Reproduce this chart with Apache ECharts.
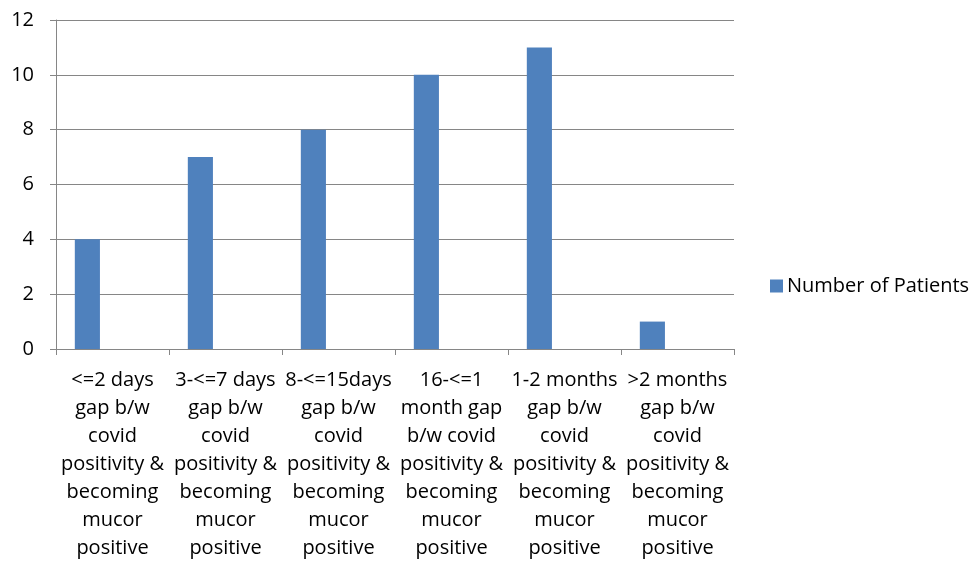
<!DOCTYPE html>
<html>
<head>
<meta charset="utf-8">
<script src="https://cdn.jsdelivr.net/npm/echarts@6/dist/echarts.min.js"></script>
<style>
html,body{margin:0;padding:0;background:#fff;}
#c{width:974px;height:564px;}
</style>
</head>
<body>
<div id="c"></div>
<script>
const categories = [
  "<=2 days\ngap b/w\ncovid\npositivity &\nbecoming\nmucor\npositive",
  "3-<=7 days\ngap b/w\ncovid\npositivity &\nbecoming\nmucor\npositive",
  "8-<=15days\ngap b/w\ncovid\npositivity &\nbecoming\nmucor\npositive",
  "16-<=1\nmonth gap\nb/w covid\npositivity &\nbecoming\nmucor\npositive",
  "1-2 months\ngap b/w\ncovid\npositivity &\nbecoming\nmucor\npositive",
  ">2 months\ngap b/w\ncovid\npositivity &\nbecoming\nmucor\npositive"
];
const seriesName = "Number of Patients";
const patients = [4, 7, 8, 10, 11, 1];
const emptySlots = [null, null, null, null, null, null];
const yTicks = { min: 0, max: 12, interval: 2 };

const FONT = "Open Sans";
const chart = echarts.init(document.getElementById('c'), null, { renderer: 'canvas' });
chart.setOption({
  animation: false,
  textStyle: { fontFamily: FONT },
  grid: { left: 56, top: 20, right: 240, bottom: 215, containLabel: false },
  legend: {
    data: [seriesName],
    left: 765, top: 271,
    itemWidth: 13, itemHeight: 13,
    icon: 'rect',
    textStyle: { fontFamily: FONT, fontSize: 20, color: '#000', padding: [0, 0, 0, -1] }
  },
  xAxis: {
    type: 'category',
    data: categories,
    axisLine: { lineStyle: { color: '#868686', width: 1 } },
    axisTick: { show: true, length: 6, lineStyle: { color: '#868686' } },
    axisLabel: {
      interval: 0, margin: 17, color: '#000', fontFamily: FONT, fontSize: 20,
      lineHeight: 28, align: 'center'
    }
  },
  yAxis: {
    type: 'value',
    min: yTicks.min, max: yTicks.max, interval: yTicks.interval,
    axisLine: { show: true, lineStyle: { color: '#868686', width: 1 } },
    axisTick: { show: true, length: 6, lineStyle: { color: '#868686' } },
    splitLine: { show: true, lineStyle: { color: '#868686', width: 1 } },
    axisLabel: { margin: 22, color: '#000', fontFamily: FONT, fontSize: 20 }
  },
  series: [
    { name: seriesName, type: 'bar', data: patients, barGap: 0, barCategoryGap: '33.3%',
      itemStyle: { color: '#4F81BD' } },
    { name: 'empty1', type: 'bar', data: emptySlots, barGap: 0, barCategoryGap: '33.3%' },
    { name: 'empty2', type: 'bar', data: emptySlots, barGap: 0, barCategoryGap: '33.3%' }
  ]
});
</script>
</body>
</html>
